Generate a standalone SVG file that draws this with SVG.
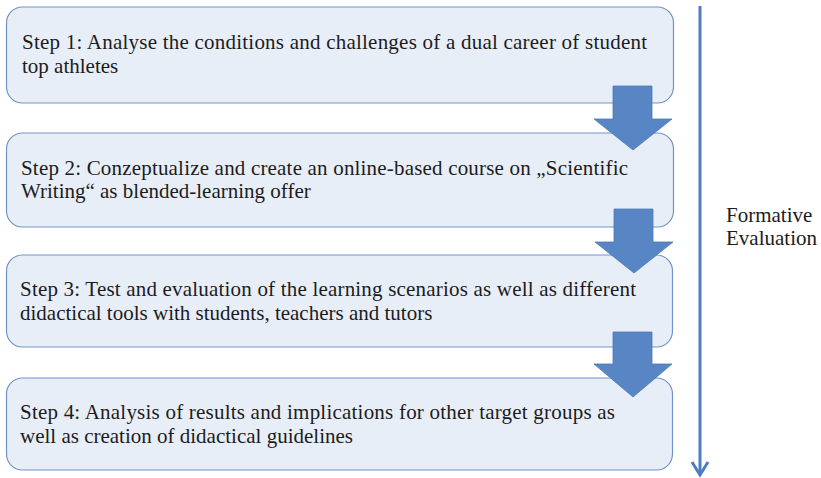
<svg xmlns="http://www.w3.org/2000/svg" width="821" height="478" viewBox="0 0 821 478">
  <style>
    .box { fill: #e8eef8; stroke: #7393c8; stroke-width: 1.2; }
    .step { font-family: "Times New Roman", Times, "Liberation Serif", Tinos, "DejaVu Serif", "Noto Serif", serif; font-size: 21px; fill: #1c1c1c; }
    .flow { fill: #5886c5; stroke: #4d79b8; stroke-width: 0.8; }
    .axis { stroke: #4f7cc0; stroke-width: 3; fill: none; }
  </style>
  <defs>
    <marker id="axisHead" markerUnits="userSpaceOnUse" markerWidth="20" markerHeight="20" refX="16" refY="10" orient="auto" viewBox="0 0 20 20">
      <path d="M3,2 L16,10 L3,18" fill="none" stroke="#4f7cc0" stroke-width="3"/>
    </marker>
  </defs>

  <!-- step boxes -->
  <g id="step1">
    <rect class="box" x="6.5" y="7" width="667" height="96" rx="16" ry="16"/>
    <text class="step" x="22" y="49" textLength="625" lengthAdjust="spacing">Step 1: Analyse the conditions and challenges of a dual career of student</text>
    <text class="step" x="22" y="73">top athletes</text>
  </g>
  <g id="step2">
    <rect class="box" x="6.5" y="133" width="667" height="94" rx="16" ry="16"/>
    <text class="step" x="21" y="175" textLength="607" lengthAdjust="spacing">Step 2: Conzeptualize and create an online-based course on „Scientific</text>
    <text class="step" x="21" y="198">Writing“ as blended-learning offer</text>
  </g>
  <g id="step3">
    <rect class="box" x="6.5" y="255" width="666" height="92" rx="16" ry="16"/>
    <text class="step" x="20" y="296" textLength="616" lengthAdjust="spacing">Step 3: Test and evaluation of the learning scenarios as well as different</text>
    <text class="step" x="20" y="320">didactical tools with students, teachers and tutors</text>
  </g>
  <g id="step4">
    <rect class="box" x="6.5" y="378" width="666" height="92" rx="16" ry="16"/>
    <text class="step" x="20" y="419" textLength="595" lengthAdjust="spacing">Step 4: Analysis of results and implications for other target groups as</text>
    <text class="step" x="20" y="443">well as creation of didactical guidelines</text>
  </g>

  <!-- connectors between steps and the evaluation axis -->
  <g id="connectors">
    <path class="flow" d="M613,86 H652 V119 H672 L633,150 L594,119 H613 Z"/>
    <path class="flow" d="M614,209 H653 V242 H673 L634,273 L595,242 H614 Z"/>
    <path class="flow" d="M613,332 H652 V364 H672 L633,397 L594,364 H613 Z"/>
    <line class="axis" x1="700" y1="6" x2="700" y2="475" marker-end="url(#axisHead)"/>
  </g>

  <g id="formative-evaluation">
    <text class="step" x="726" y="222">Formative</text>
    <text class="step" x="726" y="245">Evaluation</text>
  </g>
</svg>
